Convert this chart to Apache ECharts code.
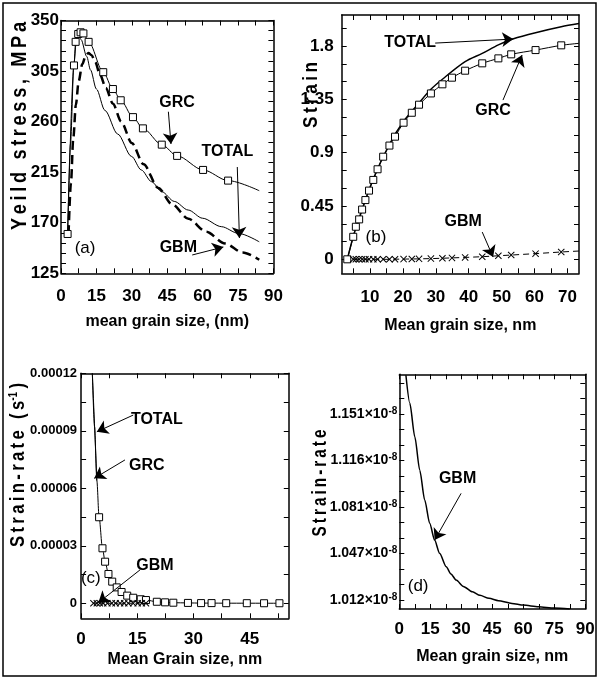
<!DOCTYPE html>
<html>
<head>
<meta charset="utf-8">
<script src="https://cdn.jsdelivr.net/npm/echarts@6/dist/echarts.min.js"></script>
<style>
html, body { margin: 0; padding: 0; background: #fff; }
#main { width: 600px; height: 680px; }
</style>
</head>
<body>
<div id="main"></div>
<script>
// ---- (a) yield stress vs grain size ----
const sizeA = [2.8, 5.5, 6.2, 7.3, 8.3, 9.5, 11.7, 17.9, 22.0, 25.3, 30.5, 34.7, 42.7, 49.2, 60.2, 70.8, 84.0]
const grcA = [160, 310, 331, 338, 339.5, 338.5, 331, 304, 289, 279, 264, 254, 239.5, 229.5, 217, 207.5, 198.5]
const totalSizeA = [2.8, 4.0, 5.5, 6.5, 7.3, 8.5, 10.9, 12.5, 15.0, 18.6, 24.0, 29.9, 34.0, 38.4, 42.7, 48.0, 53.9, 60.0, 68.0, 75.1, 84.0]
const totalA = [160, 240, 312, 332, 337, 333, 318, 306, 289, 270, 249, 229, 217, 206.5, 197.6, 189, 181.3, 174, 166.5, 160.6, 153]
const gbmSizeA = [3.2, 4.2, 5.2, 6.3, 7.5, 9.0, 10.5, 11.6, 13.0, 14.5, 16.5, 19.0, 22.0, 25.5, 30.0, 35.0, 41.2, 47.0, 54.0, 61.5, 69.5, 77.0, 84.0]
const gbmA = [160, 205, 245, 275, 296, 311, 319, 321, 319, 313, 302, 290, 276, 260, 241, 222, 201, 186.5, 173.5, 162, 151.5, 143.5, 137]
const xLabelsA = [0, 15, 30, 45, 60, 75, 90]
const yLabelsA = [125, 170, 215, 260, 305, 350]

// ---- (b) strain vs grain size ----
const sizeB = [3.1, 4.9, 5.7, 6.7, 7.6, 8.6, 9.7, 11.0, 12.3, 14.0, 15.9, 17.6, 20.2, 22.7, 24.9, 28.5, 32.0, 34.9, 38.9, 44.1, 49.0, 52.9, 60.3, 68.1, 73.5]
const grcB = [0, 0.19, 0.275, 0.337, 0.42, 0.5, 0.58, 0.67, 0.76, 0.866, 0.96, 1.035, 1.153, 1.237, 1.305, 1.40, 1.477, 1.533, 1.592, 1.654, 1.696, 1.73, 1.766, 1.806, 1.823]
const totalSizeB = [3.1, 4.9, 7.6, 11.0, 15.9, 20.2, 24.9, 28.5, 32.0, 38.9, 44.1, 49.0, 53.6, 60.3, 68.1, 73.5]
const totalB = [0, 0.19, 0.42, 0.68, 0.97, 1.165, 1.32, 1.435, 1.52, 1.668, 1.738, 1.81, 1.862, 1.913, 1.963, 1.99]
const gbmSizeB = sizeB.slice(1)
const gbmB = [0, 0, 0, 0, 0, 0, 0, 0, 0, 0, 0.001, 0.002, 0.003, 0.004, 0.006, 0.009, 0.012, 0.016, 0.022, 0.03, 0.036, 0.048, 0.062, 0.07]
const xLabelsB = [10, 20, 30, 40, 50, 60, 70]
const yLabelsB = [0, 0.45, 0.9, 1.35, 1.8]

// ---- (c) strain-rate vs grain size ----
const steepSizeC = [3.0, 3.6, 4.2]
const steepC = [1.2e-4, 9.2e-5, 6.4e-5]
const sizeC = [4.8, 5.7, 6.4, 7.3, 8.3, 9.5, 10.8, 12.3, 13.9, 15.9, 17.3, 20.2, 22.4, 24.6, 28.5, 32.0, 34.8, 38.7, 44.2, 48.8, 52.9]
const grcC = [4.49e-5, 2.87e-5, 2.17e-5, 1.53e-5, 1.13e-5, 8.3e-6, 5.9e-6, 4.0e-6, 2.9e-6, 2.1e-6, 1.7e-6, 8e-7, 5e-7, 3e-7, 2e-7, 1e-7, 1e-7, 5e-8, 5e-8, 3e-8, 3e-8]
const gbmSizeC = [3.3, 4.2, 5.0, 5.9, 7.0, 8.2, 9.2, 10.4, 11.5, 12.6, 13.9, 15.1, 16.2, 17.3]
const gbmC = [1.18e-8, 1.17e-8, 1.16e-8, 1.15e-8, 1.14e-8, 1.125e-8, 1.115e-8, 1.10e-8, 1.09e-8, 1.085e-8, 1.075e-8, 1.065e-8, 1.06e-8, 1.055e-8]
const xLabelsC = [0, 15, 30, 45]
const yValuesC = [0, 3e-5, 6e-5, 9e-5, 1.2e-4]
const yLabelsC = ['0', '0.00003', '0.00006', '0.00009', '0.00012']

// ---- (d) GBM strain-rate (x1e-8) vs grain size ----
const sizeD = [3.2, 5.1, 7.5, 9.9, 12.3, 14.7, 17.1, 19.5, 22.7, 25.0, 27.5, 31.0, 35.4, 39.0, 43.4, 48.0, 54.5, 60.0, 67.3, 75.0, 82.5]
const gbmD = [1.180, 1.159, 1.134, 1.109, 1.0867, 1.0693, 1.0568, 1.0469, 1.0369, 1.0315, 1.0269, 1.0222, 1.0182, 1.0155, 1.0133, 1.0115, 1.0095, 1.0082, 1.007, 1.006, 1.0053]
const xLabelsD = [0, 15, 30, 45, 60, 75, 90]
const yValuesD = [1.012, 1.04675, 1.0815, 1.11625, 1.151]
const yLabelsD = ['1.012', '1.047', '1.081', '1.116', '1.151']

const FONT = "'Liberation Sans', Arial, sans-serif"
const THIN = '\u2009'

function steps(a, b, s) {
    const out = []
    for (let v = a; v <= b + s * 1e-6; v += s) out.push(+v.toPrecision(10))
    return out
}
function pick(vals, labels) {
    return (v) => {
        const i = vals.findIndex((t) => Math.abs(t - v) < Math.abs(t) * 1e-6 + 1e-12)
        return i < 0 ? '' : labels[i]
    }
}
// letter-spaced title text
function spaced(s) {
    return s.split('').join(THIN)
}
const measureCtx = document.createElement('canvas').getContext('2d')
function textWidth(text, font) {
    measureCtx.font = font
    return measureCtx.measureText(text).width
}

const frameLine = { show: true, onZero: false, lineStyle: { color: '#000', width: 1.5 } }

function mainAxis(grid, pos, min, max, ticks, labels, fmt, fontSize, margin, extra) {
    return Object.assign({
        type: 'value', gridIndex: grid, position: pos, min: min, max: max,
        splitLine: { show: false },
        axisLine: frameLine,
        axisTick: { inside: true, length: 5, customValues: ticks, lineStyle: { color: '#000' } },
        axisLabel: { customValues: labels, formatter: fmt, color: '#000', fontFamily: FONT, fontWeight: 'bold', fontSize: fontSize, margin: margin },
    }, extra || {})
}
function sideAxis(grid, pos, min, max, ticks) {
    return {
        type: 'value', gridIndex: grid, position: pos, min: min, max: max,
        splitLine: { show: false },
        axisLine: frameLine,
        axisTick: { inside: true, length: 5, customValues: ticks, lineStyle: { color: '#000' } },
        axisLabel: { show: false },
    }
}
function xName(text, gap) {
    return { name: text, nameLocation: 'middle', nameGap: gap, nameTextStyle: { color: '#000', fontFamily: FONT, fontWeight: 'bold', fontSize: 16 } }
}

// points; the last one of a marked series carries no symbol (curve end)
function marked(xs, ys, plainLast) {
    return xs.map((x, i) => (plainLast && i === xs.length - 1 ? { value: [x, ys[i]], symbol: 'none' } : [x, ys[i]]))
}
function zip(xs, ys) {
    return xs.map((x, i) => [x, ys[i]])
}

function notes(texts, arrows) {
    return {
        markPoint: {
            silent: true, symbol: 'circle', symbolSize: 1,
            itemStyle: { color: 'rgba(0,0,0,0)' },
            label: { show: true, position: 'inside', color: '#000', fontFamily: FONT, fontWeight: 'bold', fontSize: 16, formatter: '{b}' },
            data: texts.map((t) => ({ name: t[0], coord: t[1], label: t[2] || {} })),
        },
        markLine: {
            silent: true, symbol: ['none', 'arrow'], symbolSize: 11,
            label: { show: false },
            itemStyle: { color: '#000' },
            lineStyle: { color: '#000', width: 1, type: 'solid' },
            data: arrows.map((a) => [{ coord: a[0] }, { coord: a[1] }]),
        },
    }
}

const square = { symbol: 'rect', symbolSize: 7, itemStyle: { color: '#fff', borderColor: '#000', borderWidth: 1 } }
const cross = { symbol: 'path://M0,1L1,0L5,4L9,0L10,1L6,5L10,9L9,10L5,6L1,10L0,9L4,5Z', symbolSize: 7, itemStyle: { color: '#000' } }
const plain = { fontWeight: 'normal', fontSize: 17 }

// rotated, letter-spaced y titles squeezed to the length they have in the figure
function yTitle(x, y, text, size, length, sup) {
    const font = 'bold ' + size + 'px ' + FONT
    const supFont = 'bold ' + Math.round(size * 0.6) + 'px ' + FONT
    const main = spaced(text)
    let w = textWidth(main, font)
    const style = {
        text: main, font: font, fill: '#000',
        textAlign: 'center', textVerticalAlign: 'middle', align: 'center', verticalAlign: 'middle',
    }
    if (sup) {
        w += textWidth(sup, supFont) + textWidth(THIN + ')', font)
        style.text = '{m|' + main + '}{s|' + sup + '}{m|' + THIN + ')}'
        style.rich = { m: { font: font, fill: '#000' }, s: { font: supFont, fill: '#000', verticalAlign: 'top' } }
    }
    return { type: 'text', x: x, y: y, rotation: Math.PI / 2, scaleX: length / w, style: style }
}

const chart = echarts.init(document.getElementById('main'))

const option = {
    animation: false,
    backgroundColor: '#fff',
    grid: [
        { left: 61, top: 20.5, width: 212.4, height: 252.8 },
        { left: 341.7, top: 15, width: 237.3, height: 258.3 },
        { left: 81.1, top: 373.3, width: 207.7, height: 245 },
        { left: 399.3, top: 374.3, width: 186, height: 234.7 },
    ],
    xAxis: [
        mainAxis(0, 'bottom', 0, 90, steps(0, 90, 7.5), xLabelsA, null, 17, 15, xName('mean grain size, (nm)', 40)),
        sideAxis(0, 'top', 0, 90, steps(0, 90, 7.5)),
        mainAxis(1, 'bottom', 1.4, 73.5, steps(5, 70, 5), xLabelsB, null, 17, 16, xName('Mean grain size, nm', 44)),
        sideAxis(1, 'top', 1.4, 73.5, steps(5, 70, 5)),
        mainAxis(2, 'bottom', 0, 55.4, steps(0, 52.5, 7.5), xLabelsC, null, 17, 13, xName('Mean Grain size, nm', 33)),
        sideAxis(2, 'top', 0, 55.4, steps(0, 52.5, 7.5)),
        mainAxis(3, 'bottom', 0, 90, steps(0, 90, 7.5), xLabelsD, null, 17, 12, xName('Mean grain size, nm', 40)),
        sideAxis(3, 'top', 0, 90, steps(0, 90, 7.5)),
    ],
    yAxis: [
        mainAxis(0, 'left', 125, 350, steps(125, 350, 9), yLabelsA, null, 17, 2),
        sideAxis(0, 'right', 125, 350, steps(125, 350, 9)),
        mainAxis(1, 'left', -0.118, 2.062, steps(0, 1.95, 0.15), yLabelsB, null, 17, 8),
        sideAxis(1, 'right', -0.118, 2.062, steps(0, 1.95, 0.15)),
        mainAxis(2, 'left', -7.83e-6, 1.2e-4, steps(0, 1.2e-4, 1.5e-5), yValuesC, pick(yValuesC, yLabelsC), 13, 4),
        sideAxis(2, 'right', -7.83e-6, 1.2e-4, steps(0, 1.2e-4, 1.5e-5)),
        mainAxis(3, 'left', 1.0053, 1.1807, steps(1.012, 1.18, 0.03475 / 3), yValuesD,
            (v) => '{m|' + pick(yValuesD, yLabelsD)(v) + '×10}{s|-8}', 14, 2),
        sideAxis(3, 'right', 1.0053, 1.1807, steps(1.012, 1.18, 0.03475 / 3)),
    ],
    series: [
        // (a)
        Object.assign({
            name: 'GRC', type: 'line', xAxisIndex: 0, yAxisIndex: 0, smooth: 0.3, smoothMonotone: 'x',
            data: marked(sizeA, grcA, true), lineStyle: { color: '#000', width: 1 }, z: 3,
        }, square, notes(
            [['GRC', [49.2, 276.8]], ['TOTAL', [70.5, 233]], ['GBM', [49.7, 147.5]], ['(a)', [10.2, 147.5], plain]],
            [[[45.5, 268.8], [46.6, 240.1]], [[74.7, 219.6], [75.6, 156.4]], [[55.6, 141.3], [68.8, 148.4]]]
        )),
        { name: 'TOTAL', type: 'line', xAxisIndex: 0, yAxisIndex: 0, smooth: 0.3, smoothMonotone: 'x', symbol: 'none',
            data: zip(totalSizeA, totalA), lineStyle: { color: '#000', width: 1 } },
        { name: 'GBM', type: 'line', xAxisIndex: 0, yAxisIndex: 0, smooth: 0.3, smoothMonotone: 'x', symbol: 'none',
            data: zip(gbmSizeA, gbmA), lineStyle: { color: '#000', width: 2.5, type: [9, 5] } },
        // (b)
        Object.assign({
            name: 'GRC', type: 'line', xAxisIndex: 2, yAxisIndex: 2, smooth: 0.3,
            data: marked(sizeB, grcB, true), lineStyle: { color: '#000', width: 1 }, z: 3,
        }, square, notes(
            [['TOTAL', [22.2, 1.825]], ['GRC', [47.4, 1.259]], ['GBM', [38.3, 0.315]], ['(b)', [11.8, 0.188], plain]],
            [[[29.8, 1.825], [53.5, 1.859]], [[50.4, 1.344], [56.2, 1.724]], [[44.1, 0.23], [47.4, 0.019]]]
        )),
        { name: 'TOTAL', type: 'line', xAxisIndex: 2, yAxisIndex: 2, smooth: 0.3, symbol: 'none',
            data: zip(totalSizeB, totalB), lineStyle: { color: '#000', width: 1.5 } },
        Object.assign({ name: 'GBM', type: 'line', xAxisIndex: 2, yAxisIndex: 2,
            data: marked(gbmSizeB, gbmB, true), lineStyle: { color: '#000', width: 1, type: [6, 4] } }, cross),
        // (c)
        Object.assign({
            name: 'GRC', type: 'line', xAxisIndex: 4, yAxisIndex: 4, smooth: 0.3, smoothMonotone: 'x',
            data: steepSizeC.map((x, i) => ({ value: [x, steepC[i]], symbol: 'none' })).concat(zip(sizeC, grcC)),
            lineStyle: { color: '#000', width: 1 }, z: 3,
        }, square, notes(
            [['TOTAL', [20.2, 9.56e-5]], ['GRC', [17.5, 7.2e-5]], ['GBM', [19.7, 1.99e-5]], ['(c)', [2.6, 1.3e-5], plain]],
            [[[13.9, 9.82e-5], [4.2, 8.95e-5]], [[11.7, 7.48e-5], [3.5, 6.52e-5]], [[15.7, 1.74e-5], [4.6, 0.03e-5]]]
        )),
        { name: 'TOTAL', type: 'line', xAxisIndex: 4, yAxisIndex: 4, smooth: 0.3, symbol: 'none',
            data: zip(steepSizeC, steepC), lineStyle: { color: '#000', width: 1 } },
        Object.assign({ name: 'GBM', type: 'line', xAxisIndex: 4, yAxisIndex: 4,
            data: zip(gbmSizeC, gbmC), lineStyle: { color: '#000', width: 1, type: [4, 3] } }, cross),
        // (d)
        Object.assign({
            name: 'GBM', type: 'line', xAxisIndex: 6, yAxisIndex: 6, smooth: 0.25, smoothMonotone: 'x', symbol: 'none',
            data: zip(sizeD, gbmD), lineStyle: { color: '#000', width: 1.5 },
        }, notes(
            [['GBM', [28.2, 1.1029]], ['(d)', [9.1, 1.0219], plain]],
            [[[29.9, 1.0917], [17.1, 1.0568]]]
        )),
    ],
    graphic: [
        { type: 'rect', shape: { x: 3, y: 3, width: 593, height: 673 }, style: { fill: 'none', stroke: '#000', lineWidth: 1.5 } },
        yTitle(20, 126, 'Yeild stress, MPa', 22, 208),
        yTitle(311, 95, 'Strain', 20, 66),
        yTitle(18, 465, 'Strain-rate (s', 20, 164, '-1'),
        yTitle(320, 483, 'Strain-rate', 20, 107),
    ],
}

// superscript for the x10^-8 labels of panel (d)
option.yAxis[6].axisLabel.rich = {
    m: { fontFamily: FONT, fontWeight: 'bold', fontSize: 14, color: '#000' },
    s: { fontFamily: FONT, fontWeight: 'bold', fontSize: 10, color: '#000', verticalAlign: 'top', padding: [0, 0, 6, 0] },
}

chart.setOption(option)
</script>
</body>
</html>
